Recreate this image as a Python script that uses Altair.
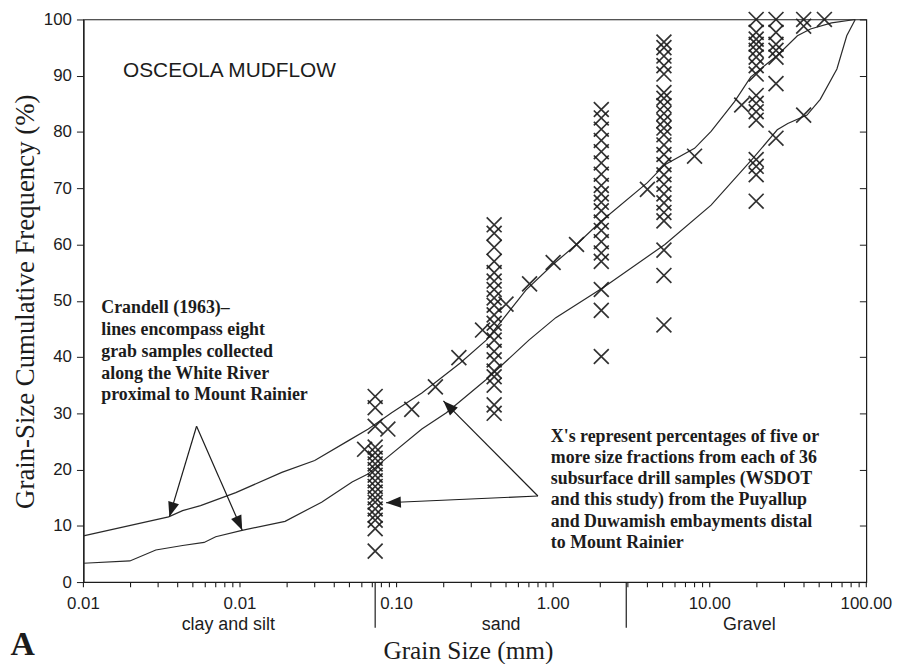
import altair as alt
import pandas as pd

# ---------------- data ----------------
# Crandell (1963) envelope curves (grain size mm, cumulative %)
upper_mm = [0.001, 0.0035, 0.0043, 0.0056, 0.0094, 0.0185, 0.030, 0.049, 0.066, 0.093,
            0.145, 0.254, 0.374, 0.67, 1.0, 1.41, 2.0, 4.0, 5.17, 8.0, 10.2, 14.4, 18.3,
            27.0, 36.3, 44.0, 60.0, 85.0]
upper_pct = [8.2, 11.6, 12.7, 13.6, 15.9, 19.5, 21.6, 25.1, 27.2, 30.1,
             33.6, 38.9, 43.0, 51.9, 56.5, 60.0, 64.0, 71.0, 74.2, 77.1, 80.1, 85.4, 89.8,
             93.6, 97.1, 98.3, 99.4, 100.0]
lower_mm = [0.001, 0.00198, 0.0029, 0.0043, 0.0059, 0.0070, 0.0103, 0.0194, 0.0332, 0.052,
            0.0656, 0.085, 0.145, 0.208, 0.374, 0.70, 1.04, 2.15, 5.17, 10.2, 19.0, 27.0,
            31.5, 41.8, 50.8, 64.9, 75.0, 85.0]
lower_pct = [3.35, 3.76, 5.7, 6.5, 7.05, 8.05, 9.2, 10.8, 14.2, 17.8,
             19.2, 21.9, 27.2, 30.1, 36.0, 43.0, 47.0, 52.6, 60.0, 67.0, 75.4, 80.4,
             81.5, 83.0, 85.8, 91.2, 97.1, 100.0]

# drill-sample X's: sieve sizes (mm) and the percentages plotted at each
sieve_mm = [0.073, 0.42, 2.03, 5.1, 19.8, 26.5, 39.8, 54.0]
sieve_pct = [
    [33, 31, 27.7, 24, 23, 22, 21, 20, 19, 18, 17, 16, 15, 14.2, 13, 11.9, 11, 9.5, 5.5],
    [63.5, 62, 59.5, 57, 55, 53.5, 52, 50.5, 49.2, 47.5, 46, 44.5, 43, 41, 39.5, 37.5,
     36.5, 35, 31.5, 30],
    [84, 82.5, 80.5, 78.5, 76.5, 74.5, 72.5, 70.5, 69, 67.5, 66, 64, 62.5, 60.5, 58.5,
     57, 52, 48.3, 40.1],
    [96, 95, 93.5, 91.8, 90.3, 87, 86, 84.7, 83.3, 82, 80.7, 79.5, 77.7, 76, 74.2, 72.4,
     70.7, 69, 67.4, 65.7, 64.2, 59, 54.5, 45.7],
    [100, 97.7, 96.5, 95.6, 94.5, 93.3, 91.8, 90.3, 86.5, 85.1, 83.6, 82.1, 75.1, 73.9,
     72.4, 67.7],
    [100, 97.7, 95.6, 94.5, 93.3, 88.6, 78.9],
    [100, 98.8, 83],
    [100],
]
# one sample sieved at half-phi intervals
halfphi_mm = [0.0625, 0.088, 0.125, 0.177, 0.25, 0.354, 0.5, 0.707, 1.0, 1.41, 4.0, 8.0, 16.0]
halfphi_pct = [23.6, 27.2, 30.7, 34.7, 39.9, 44.8, 49.4, 53.0, 56.8, 60.0, 69.8, 75.7, 84.8]

# axis ticks / labels
decades = [0.001, 0.01, 0.1, 1, 10, 100]
decade_labels = ["0.01", "0.01", "0.10", "1.00", "10.00", "100.00"]
y_ticks = list(range(0, 101, 10))
x_title = "Grain Size (mm)"
y_title = "Grain-Size Cumulative Frequency (%)"

# class boundaries and names under the x axis
boundary_mm = [0.073, 2.93]
class_mm = [0.00842, 0.4656, 17.9]
class_names = ["clay and silt", "sand", "Gravel"]

# annotation arrows (base -> tip, in data units)
arrow_from_mm = [0.00528, 0.00528, 0.799, 0.799]
arrow_from_pct = [27.7, 27.7, 15.3, 15.3]
arrow_to_mm = [0.00354, 0.01033, 0.199, 0.0856]
arrow_to_pct = [11.6, 9.2, 32.2, 14.1]
arrow_angle = [196.6, 156.3, 315, 267.3]

left_note = ["Crandell (1963)\u2013", "lines encompass eight", "grab samples collected",
             "along the White River", "proximal to Mount Rainier"]
right_note = ["X's represent percentages of five or",
              "more size fractions from each of 36",
              "subsurface drill samples (WSDOT",
              "and this study) from the Puyallup",
              "and Duwamish embayments distal",
              "to Mount Rainier"]

# ---------------- build tables ----------------
lines_df = pd.concat([
    pd.DataFrame({"mm": upper_mm, "pct": upper_pct, "curve": "upper"}),
    pd.DataFrame({"mm": lower_mm, "pct": lower_pct, "curve": "lower"}),
])
rows = []
for m, vals in zip(sieve_mm, sieve_pct):
    for v in vals:
        rows.append({"mm": m, "pct": v})
for m, v in zip(halfphi_mm, halfphi_pct):
    rows.append({"mm": m, "pct": v})
x_df = pd.DataFrame(rows)
arrows_df = pd.DataFrame({"mm": arrow_from_mm, "pct": arrow_from_pct,
                          "mm2": arrow_to_mm, "pct2": arrow_to_pct, "ang": arrow_angle})
bound_df = pd.DataFrame({"mm": boundary_mm, "y0": [0] * len(boundary_mm),
                         "y1": [-8.1] * len(boundary_mm)})
class_df = pd.DataFrame({"mm": class_mm, "name": class_names, "pct": [-8.5] * 3})

tick_vals = [round(d * 10 ** e, 6) for e in range(-3, 2) for d in range(1, 10)] + [100]
xtick_df = pd.DataFrame({"mm": tick_vals, "y0": [0] * len(tick_vals),
                         "y1": [-0.9] * len(tick_vals)})
xlab_df = pd.DataFrame({"mm": decades, "lab": decade_labels, "pct": [-4.8] * len(decades)})

INK = "#1c1c1c"
SANS = "Liberation Sans"
SERIF = "Liberation Serif"

xs = alt.Scale(type="log", domain=[0.001, 100], nice=False)
ys = alt.Scale(domain=[0, 100], nice=False, zero=False)


def X(field, axis=None):
    return alt.X(field, scale=xs, axis=axis)


def Y(field, axis=None):
    return alt.Y(field, scale=ys, axis=axis)


y_axis = alt.Axis(values=y_ticks, grid=False, tickSize=7, tickColor=INK,
                  domainColor=INK, domainWidth=1.2, labelFont=SANS, labelFontSize=17,
                  labelColor=INK, labelPadding=5, orient="left",
                  title=y_title, titleFont=SERIF,
                  titleFontSize=27, titleFontWeight="normal", titleColor=INK,
                  titleX=-50, titleY=284, titleAngle=270, titleAlign="center",
                  titleBaseline="alphabetic")
y_axis_right = alt.Axis(values=y_ticks, grid=False, tickSize=7, tickColor=INK,
                        domain=False, labels=False, title=None, orient="right",
                        offset=-7)

curves = alt.Chart(lines_df).mark_line(color="#2a2a2a", strokeWidth=1.2).encode(
    x=X("mm:Q"), y=Y("pct:Q", y_axis), detail="curve:N")

right_ax = alt.Chart(lines_df).mark_point(opacity=0).encode(
    x=X("mm:Q"), y=Y("pct:Q", y_axis_right))

# hand-built bottom axis (ticks + labels)
x_ticks = alt.Chart(xtick_df).mark_rule(color=INK, strokeWidth=1.1).encode(
    x=X("mm:Q"), y=Y("y0:Q"), y2="y1:Q")
x_labels = alt.Chart(xlab_df).mark_text(
    font=SANS, fontSize=17, color=INK, align="center", baseline="alphabetic").encode(
    x=X("mm:Q"), y=Y("pct:Q"), text="lab:N")

xmarks = alt.Chart(x_df).mark_point(
    shape="M-1,-1L1,1M-1,1L1,-1", filled=False, size=225, strokeWidth=1.7,
    color=INK, opacity=0.9).encode(x=X("mm:Q"), y=Y("pct:Q"))

arrow_lines = alt.Chart(arrows_df).mark_rule(color=INK, strokeWidth=1.2).encode(
    x=X("mm:Q"), y=Y("pct:Q"), x2="mm2:Q", y2="pct2:Q")
arrow_heads = alt.Chart(arrows_df).mark_point(
    shape="M0,0L-0.75,2L0.75,2Z", filled=True, size=225, color=INK, opacity=1).encode(
    x=X("mm2:Q"), y=Y("pct2:Q"), angle=alt.Angle("ang:Q", scale=None))

bounds = alt.Chart(bound_df).mark_rule(color=INK, strokeWidth=1.2).encode(
    x=X("mm:Q"), y=Y("y0:Q"), y2="y1:Q")
classes = alt.Chart(class_df).mark_text(
    font=SANS, fontSize=18, color=INK, align="center", baseline="alphabetic").encode(
    x=X("mm:Q"), y=Y("pct:Q"), text="name:N")


def note(mm, pct, text, **kw):
    df = pd.DataFrame({"mm": [mm], "pct": [pct]})
    return alt.Chart(df).mark_text(color=INK, baseline="alphabetic", **kw).encode(
        x=X("mm:Q"), y=Y("pct:Q"), text=alt.value(text))


title_note = note(0.00179, 89.8, "OSCEOLA MUDFLOW", font=SANS, fontSize=21, align="left")
left_txt = note(0.0013, 47.8, left_note, font=SERIF, fontSize=18, fontWeight="bold",
                align="left", lineHeight=22)
right_txt = note(0.966, 24.9, right_note, font=SERIF, fontSize=18, fontWeight="bold",
                 align="left", lineHeight=21.3)
x_title_txt = note(0.2877, -13.76, x_title, font=SERIF, fontSize=25.5, align="center")
panel = note(0.00041, -13.0, "A", font=SERIF, fontSize=34, fontWeight="bold",
             align="center")

chart = alt.layer(
    curves, right_ax, x_ticks, x_labels, xmarks, arrow_lines, arrow_heads, bounds,
    classes, title_note, left_txt, right_txt, x_title_txt, panel
).resolve_axis(y="independent").properties(
    width=789, height=567,
    autosize=alt.AutoSizeParams(type="none"),
    padding={"left": 76, "top": 9, "right": 40, "bottom": 80},
    background="white",
).configure_view(stroke=INK, strokeWidth=1.2)

chart.save("out.html", embed_options={"renderer": "svg", "actions": False})
